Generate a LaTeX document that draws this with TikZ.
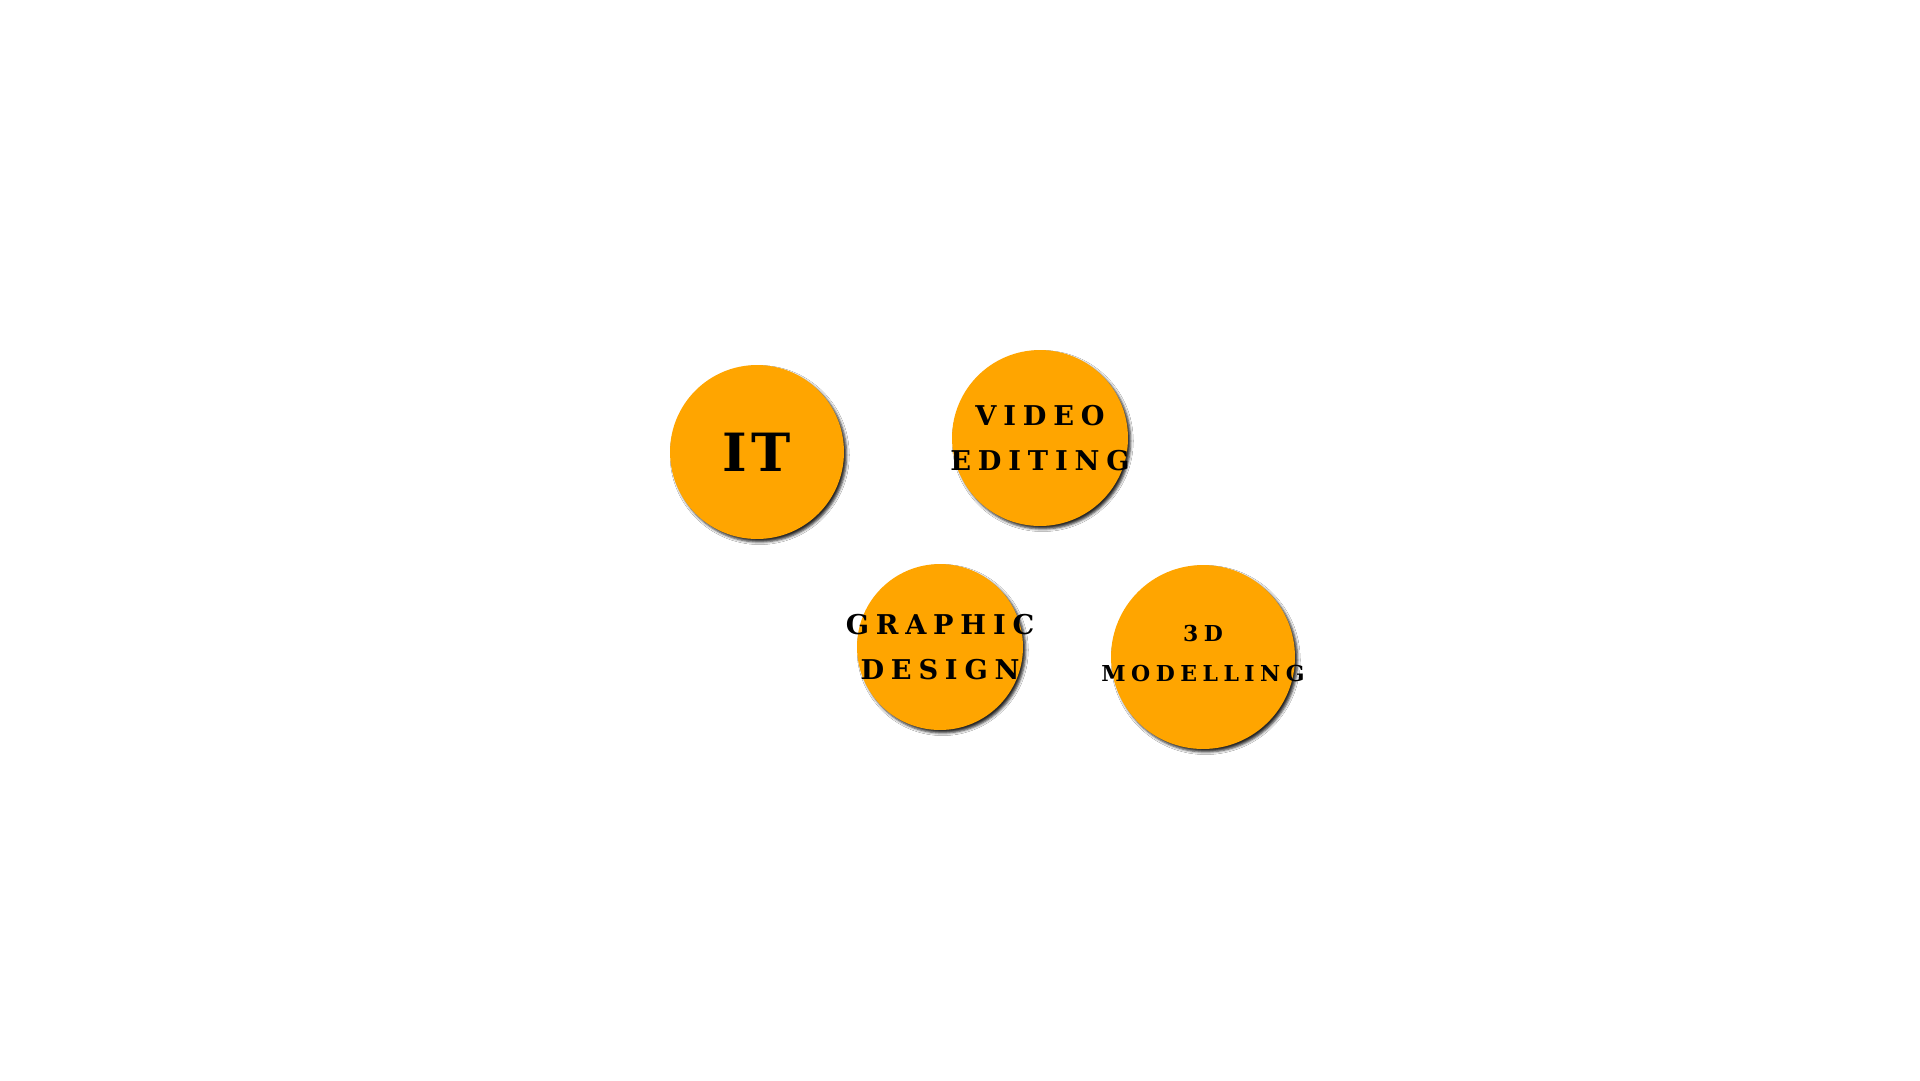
\documentclass[tikz,border=0pt]{standalone}
\usepackage{fontspec}
\newfontfamily\bubblefont[LetterSpace=25]{DejaVu Serif}
\newfontfamily\bigbubblefont[LetterSpace=8]{DejaVu Serif}
\usepackage{xcolor}
\usetikzlibrary{shadows.blur}
\definecolor{bg}{HTML}{FFFFFF}
\definecolor{amber}{HTML}{FFA500}
\definecolor{ink}{HTML}{000000}
\tikzset{
  bubble/.style={circle, fill=amber, inner sep=0pt,
    blur shadow={shadow xshift=1.5pt, shadow yshift=-1.7pt, shadow blur radius=1.5pt, shadow opacity=85}},
  lettering/.style 2 args={text=ink, align=center, inner sep=0pt,
    font=\bubblefont\bfseries\fontsize{#1}{#2}\selectfont},
  bigletter/.style={text=ink, inner sep=0pt,
    font=\bigbubblefont\bfseries\fontsize{#1}{#1}\selectfont},
}
\begin{document}
\begin{tikzpicture}[x=0.02cm, y=-0.02cm]
  \fill[bg] (0,0) rectangle (1920,1080);
  \node[bubble, minimum size=3.48cm,
    label={[bigletter=30]center:IT}] (it) at (757,452) {};
  \node[bubble, minimum size=3.52cm,
    label={[lettering={15.5}{26}]center:VIDEO\\EDITING}] (video) at (1040,438) {};
  \node[bubble, minimum size=3.32cm,
    label={[lettering={15.5}{26}]center:GRAPHIC\\DESIGN}] (graphic) at (940,647) {};
  \node[bubble, minimum size=3.68cm,
    label={[lettering={12.5}{22.5}, yshift=0.07cm]center:3D\\MODELLING}] (model) at (1203,657) {};
\end{tikzpicture}
\end{document}
